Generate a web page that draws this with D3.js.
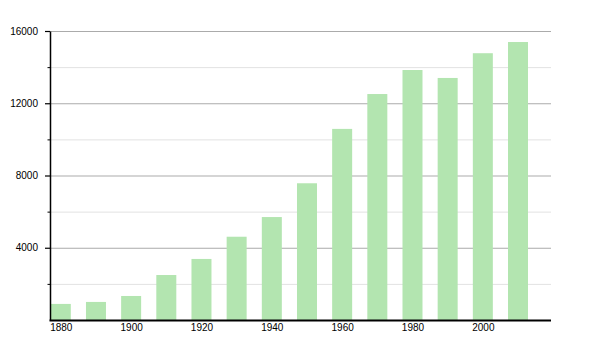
<!DOCTYPE html>
<html>
<head>
<meta charset="utf-8">
<script src="https://cdn.jsdelivr.net/npm/d3@7"></script>
<style>
  html, body { margin: 0; padding: 0; background: #fff; }
  svg { display: block; }
  text { font-family: "Liberation Sans", Arial, sans-serif; font-size: 10px; fill: #000; }
</style>
</head>
<body>
<svg id="chart" width="600" height="350"></svg>
<script>
const years = [1880, 1890, 1900, 1910, 1920, 1930, 1940, 1950, 1960, 1970, 1980, 1990, 2000, 2010];
const population = [890, 1000, 1330, 2490, 3380, 4610, 5700, 7570, 10580, 12510, 13840, 13400, 14770, 15390];
const yMajorTicks = [4000, 8000, 12000, 16000];
const yMinorTicks = [2000, 6000, 10000, 14000];
const xTickLabels = [1880, 1900, 1920, 1940, 1960, 1980, 2000];

(function () {
const svg = d3.select("#chart");
const plotL = 50, plotR = 551, plotT = 31, plotB = 320;

const x = d3.scaleLinear().domain([1880, 2010]).range([60.8, 518]);
const y = d3.scaleLinear().domain([0, 16000]).range([plotB, plotT]);
const barW = 20;

// minor grid
svg.append("g").selectAll("line").data(yMinorTicks).join("line")
  .attr("x1", plotL).attr("x2", plotR)
  .attr("y1", d => y(d) + 0.5).attr("y2", d => y(d) + 0.5)
  .attr("stroke", "#e2e2e2").attr("stroke-width", 1);
// major grid
svg.append("g").selectAll("line").data(yMajorTicks).join("line")
  .attr("x1", plotL).attr("x2", plotR)
  .attr("y1", d => y(d) + 0.5).attr("y2", d => y(d) + 0.5)
  .attr("stroke", "#ababab").attr("stroke-width", 1);

// bars
svg.append("g").selectAll("rect").data(years).join("rect")
  .attr("x", (d) => x(d) - barW / 2)
  .attr("width", barW)
  .attr("y", (d, i) => y(population[i]))
  .attr("height", (d, i) => plotB - y(population[i]))
  .attr("fill", "#b3e5b0");

// y axis
const yAxis = d3.axisLeft(y).tickValues(yMajorTicks).tickSize(5).tickSizeOuter(0).tickPadding(7)
  .tickFormat(d3.format("d"));
const gy = svg.append("g").attr("transform", `translate(${plotL},0)`).call(yAxis);
gy.select(".domain").attr("stroke", "#000").attr("stroke-width", 1.5);
gy.selectAll(".tick line").attr("stroke", "#000").attr("stroke-width", 1.2);
gy.selectAll("text").style("font-size", "10px").attr("fill", "#000");
// minor y ticks
svg.append("g").selectAll("line").data(yMinorTicks).join("line")
  .attr("x1", plotL - 2.5).attr("x2", plotL)
  .attr("y1", d => y(d) + 0.5).attr("y2", d => y(d) + 0.5)
  .attr("stroke", "#000").attr("stroke-width", 1);

// x axis
const xAxis = d3.axisBottom(x).tickValues(xTickLabels).tickSize(0).tickPadding(4)
  .tickFormat(d3.format("d"));
const gx = svg.append("g").attr("transform", `translate(0,${plotB})`).call(xAxis);
gx.select(".domain").remove();
gx.selectAll("text").style("font-size", "10px").attr("fill", "#000");
gx.append("line").attr("x1", plotL - 0.5).attr("x2", plotR).attr("y1", 0.5).attr("y2", 0.5)
  .attr("stroke", "#000").attr("stroke-width", 1.8);
})();
</script>
</body>
</html>
